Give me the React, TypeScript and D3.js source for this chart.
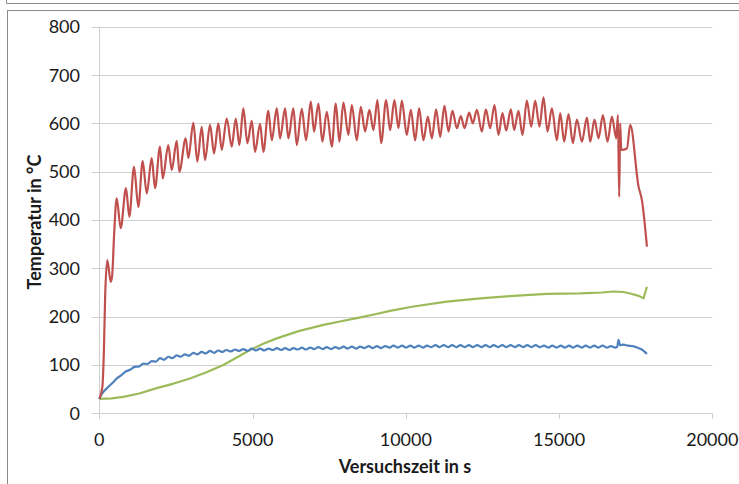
import React from "react";
import * as d3 from "d3";

type Pt = [number, number];

// Time axis ticks (s) and temperature ticks (°C)
const xTicks = [0, 5000, 10000, 15000, 20000];
const yTicks = [0, 100, 200, 300, 400, 500, 600, 700, 800];

// Hot-side thermocouple (red): [time s, temperature °C]
const redSeries: Pt[] = [
  [0, 30], [100, 55], [150, 130], [190, 240], [261, 317], [372, 272], [420, 285],
  [480, 365], [568, 445], [698, 383], [871, 466], [979, 407], [1133, 510], [1273, 427],
  [1416, 522], [1547, 455], [1710, 528], [1818, 466], [1981, 552], [2069, 486],
  [2252, 555], [2363, 503], [2526, 564], [2611, 500], [2820, 569], [2905, 528],
  [3068, 601], [3199, 521], [3342, 593], [3450, 524], [3613, 597], [3744, 538],
  [3884, 600], [3995, 545], [4158, 610], [4321, 552], [4452, 610], [4570, 555],
  [4700, 631], [4831, 559], [4974, 605], [5082, 541], [5245, 599], [5353, 541],
  [5516, 626], [5627, 565], [5790, 631], [5898, 569], [6061, 631], [6169, 569],
  [6332, 631], [6443, 555], [6606, 630], [6747, 565], [6900, 645], [7008, 583],
  [7148, 641], [7279, 562], [7422, 624], [7586, 552], [7716, 641], [7834, 562],
  [7964, 643], [8127, 576], [8238, 638], [8401, 565], [8532, 634], [8672, 583],
  [8813, 628], [8943, 586], [9074, 648], [9195, 559], [9358, 648], [9489, 586],
  [9629, 648], [9760, 590], [9870, 647], [10033, 576], [10164, 628], [10305, 565],
  [10435, 631], [10576, 565], [10719, 614], [10850, 569], [10990, 629], [11121, 572],
  [11261, 636], [11392, 583], [11522, 626], [11666, 590], [11796, 615], [11914, 590],
  [12067, 622], [12188, 600], [12318, 628], [12482, 583], [12612, 629], [12753, 590],
  [12893, 638], [13024, 576], [13154, 621], [13275, 585], [13428, 629], [13536, 586],
  [13676, 626], [13807, 576], [13950, 647], [14091, 593], [14221, 647], [14362, 593],
  [14492, 654], [14623, 583], [14766, 631], [14930, 565], [15037, 621], [15168, 562],
  [15308, 619], [15452, 559], [15582, 608], [15746, 562], [15909, 612], [16017, 562],
  [16157, 608], [16288, 569], [16431, 617], [16582, 562], [16725, 614], [16866, 569],
  [16921, 617], [16963, 448], [16995, 600], [17030, 545], [17215, 548], [17322, 597],
  [17594, 469], [17704, 441], [17867, 345],
];

// Middle thermocouple (green)
const greenSeries: Pt[] = [
  [0, 30], [400, 31], [783, 34], [1300, 41], [1873, 52], [2400, 61], [2960, 72],
  [3500, 85], [4047, 100], [4500, 116], [4918, 131], [5350, 144], [5790, 155],
  [6500, 170], [7312, 183], [7850, 190], [8401, 197], [9000, 205], [9489, 212],
  [10250, 221], [11339, 231], [12427, 238], [13515, 243], [14603, 247], [15691, 248],
  [16400, 250], [16777, 252], [17100, 251], [17322, 248], [17600, 243], [17758, 238],
  [17867, 262],
];

// Cold-side thermocouple (blue)
const blueSeries: Pt[] = [
  [0, 30], [60, 38], [186, 48], [300, 55], [420, 62], [568, 72], [700, 78], [850, 86],
  [1002, 90], [1150, 96], [1300, 97], [1436, 103], [1570, 102], [1710, 108], [1850, 107],
  [1981, 114], [2120, 111], [2250, 117], [2390, 114], [2520, 120], [2660, 117],
  [2790, 122], [2930, 119], [3070, 125], [3200, 122], [3340, 127], [3480, 124],
  [3610, 129], [3750, 125], [3880, 130], [4020, 127], [4150, 131], [4290, 128],
  [4430, 132], [4560, 129], [4700, 133], [4840, 129], [4970, 134], [5110, 130],
  [5250, 134], [5380, 130], [5520, 134], [5660, 131], [5790, 135], [5930, 131],
  [6060, 135], [6200, 131], [6330, 135], [6470, 132], [6610, 136], [6740, 132],
  [6880, 136], [7010, 133], [7150, 137], [7290, 133], [7420, 137], [7560, 133],
  [7700, 137], [7830, 134], [7970, 138], [8100, 134], [8240, 138], [8380, 134],
  [8510, 138], [8650, 135], [8790, 139], [8920, 135], [9060, 139], [9190, 135],
  [9330, 139], [9470, 136], [9600, 140], [9740, 136], [9880, 140], [10010, 136],
  [10150, 140], [10280, 136], [10420, 140], [10560, 136], [10690, 140], [10830, 137],
  [10970, 141], [11100, 137], [11240, 141], [11380, 137], [11510, 141], [11650, 137],
  [11780, 141], [11920, 137], [12060, 141], [12190, 137], [12330, 141], [12470, 137],
  [12600, 141], [12740, 137], [12870, 141], [13010, 137], [13150, 141], [13280, 137],
  [13420, 141], [13560, 137], [13690, 141], [13830, 137], [13960, 141], [14100, 137],
  [14240, 141], [14370, 137], [14510, 140], [14650, 136], [14780, 140], [14920, 136],
  [15060, 140], [15190, 136], [15330, 140], [15460, 136], [15600, 140], [15740, 136],
  [15870, 140], [16010, 136], [16150, 140], [16280, 136], [16420, 140], [16560, 136],
  [16690, 139], [16830, 136], [16900, 138], [16940, 152], [16990, 141], [17100, 142],
  [17250, 140], [17400, 139], [17550, 136], [17700, 132], [17867, 123],
];

const W = 739;
const H = 484;
const FONT = "Lato, 'Open Sans', sans-serif";

export default function App() {
  const x = d3.scaleLinear().domain([0, 20000]).range([99.3, 712.3]);
  const y = d3.scaleLinear().domain([0, 800]).range([413.3, 26.7]);
  const smooth = d3
    .line<Pt>()
    .x((d) => x(d[0]))
    .y((d) => y(d[1]))
    .curve(d3.curveMonotoneX);
  const straight = d3
    .line<Pt>()
    .x((d) => x(d[0]))
    .y((d) => y(d[1]));

  const x0 = x(0);
  const y0 = y(0);

  return (
    <svg
      width={W}
      height={H}
      style={{ position: "absolute", left: 0, top: 0, background: "#fff" }}
    >
      {/* frame lines */}
      <path d={`M6.5,0 V3.5 H${W}`} fill="none" stroke="#8a8a8a" strokeWidth={1} />
      <rect x={7.5} y={10.5} width={W + 20} height={H + 20} fill="#fff" stroke="#8a8a8a" strokeWidth={1} />

      {/* horizontal gridlines and y ticks */}
      {yTicks.map((t) => (
        <g key={`y${t}`}>
          <line
            x1={92}
            x2={x(20000)}
            y1={Math.round(y(t)) + 0.5}
            y2={Math.round(y(t)) + 0.5}
            stroke="#cfcfcf"
            strokeWidth={1}
          />
          <text
            x={80}
            y={y(t)}
            dy="0.36em"
            textAnchor="end"
            fontFamily={FONT}
            fontSize={18}
            fill="#1a1a1a"
          >
            {t}
          </text>
        </g>
      ))}

      {/* y axis line */}
      <line x1={Math.round(x0) + 0.5} x2={Math.round(x0) + 0.5} y1={y(800)} y2={419} stroke="#cfcfcf" />

      {/* x ticks and labels */}
      {xTicks.map((t) => (
        <g key={`x${t}`}>
          <line
            x1={Math.round(x(t)) + 0.5}
            x2={Math.round(x(t)) + 0.5}
            y1={y0}
            y2={419}
            stroke="#cfcfcf"
          />
          <text
            x={x(t)}
            y={446}
            textAnchor="middle"
            fontFamily={FONT}
            fontSize={18}
            fill="#1a1a1a"
          >
            {t}
          </text>
        </g>
      ))}

      {/* data lines */}
      <path d={straight(greenSeries) ?? ""} fill="none" stroke="#9bbb59" strokeWidth={2.2} strokeLinejoin="round" />
      <path d={smooth(blueSeries) ?? ""} fill="none" stroke="#4f81bd" strokeWidth={2.2} strokeLinejoin="round" />
      <path d={smooth(redSeries) ?? ""} fill="none" stroke="#c0504d" strokeWidth={2.2} strokeLinejoin="round" />

      {/* axis titles */}
      <text
        x={405}
        y={473}
        textAnchor="middle"
        fontFamily={FONT}
        fontSize={18}
        fontWeight="bold"
        fill="#1a1a1a"
      >
        Versuchszeit in s
      </text>
      <text
        transform="translate(41,222) rotate(-90)"
        textAnchor="middle"
        fontFamily={FONT}
        fontSize={18}
        fontWeight="bold"
        fill="#1a1a1a"
      >
        Temperatur in °C
      </text>
    </svg>
  );
}
